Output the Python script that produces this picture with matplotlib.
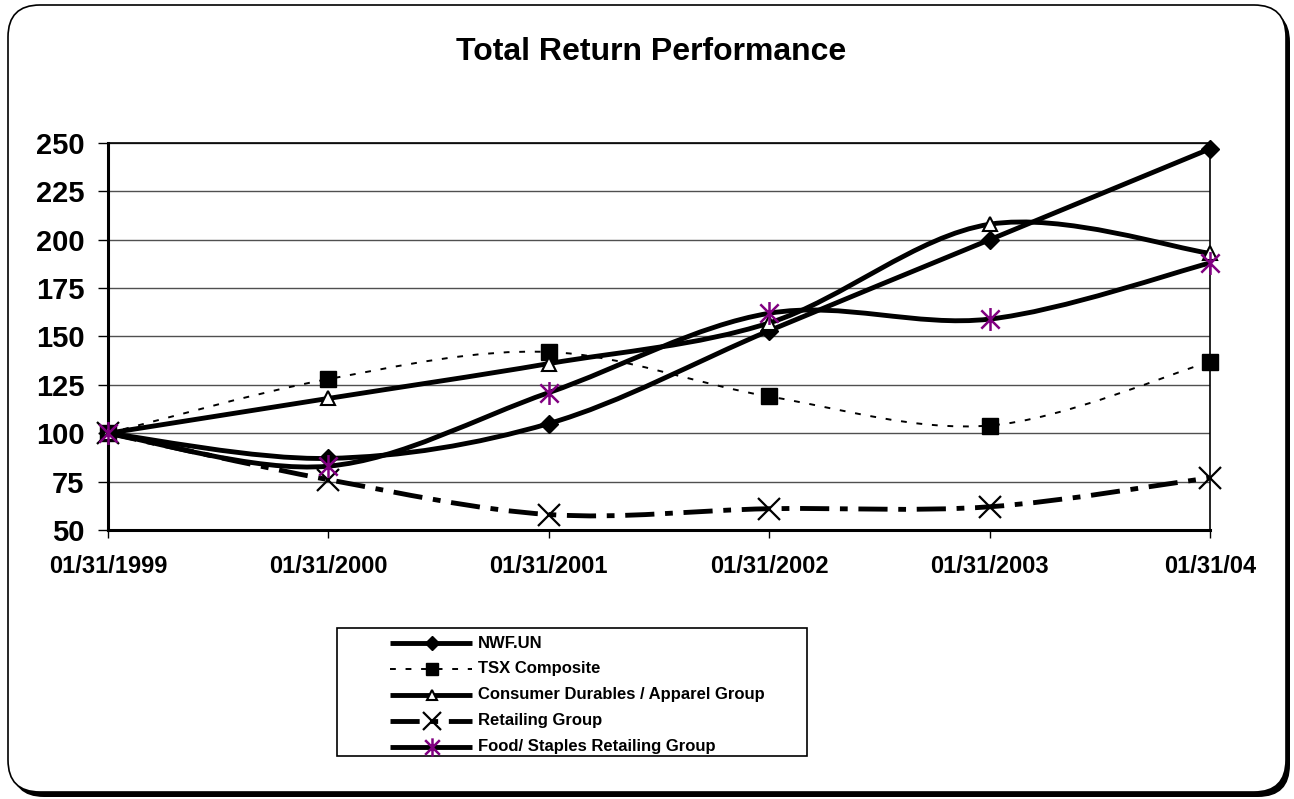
import numpy as np
import matplotlib
matplotlib.use('Agg')
import matplotlib.pyplot as plt
from matplotlib.path import Path
from matplotlib.patches import PathPatch, FancyBboxPatch, Rectangle
from matplotlib.lines import Line2D
from matplotlib.transforms import IdentityTransform

plt.rcParams['font.family'] = ['Liberation Sans', 'DejaVu Sans']
plt.rcParams['font.weight'] = 'bold'

# data
dates = ['01/31/1999', '01/31/2000', '01/31/2001', '01/31/2002', '01/31/2003', '01/31/04']
nwf = [100, 87, 105, 153, 200, 247]
tsx = [100, 128, 142, 119, 104, 137]
consumer = [100, 118, 136, 157, 208, 193]
retailing = [100, 76, 58, 61, 62, 77]
food = [100, 83, 121, 162, 159, 188]
series_names = ['NWF.UN', 'TSX Composite', 'Consumer Durables / Apparel Group',
                'Retailing Group', 'Food/ Staples Retailing Group']
y_ticks = [50, 75, 100, 125, 150, 175, 200, 225, 250]

W, H = 1294, 799
PURPLE = '#800080'

# excel-like asterisk marker: vertical bar plus an X
star = Path([(0, -1), (0, 1), (-0.8, -0.8), (0.8, 0.8), (-0.8, 0.8), (0.8, -0.8)],
            [Path.MOVETO, Path.LINETO, Path.MOVETO, Path.LINETO, Path.MOVETO, Path.LINETO])

styles = [
    dict(lw=3.5, ls='-', marker='D', ms=9.5, mfc='black', mec='black', mew=1),
    dict(lw=1.4, ls=(0, (3, 5)), marker='s', ms=11, mfc='black', mec='black', mew=1),
    dict(lw=3.5, ls='-', marker='^', ms=9.5, mfc='white', mec='black', mew=1.5),
    dict(lw=3.5, ls=(0, (6, 2.2, 1.6, 2.2)), marker='x', ms=16, mfc='black', mec='black', mew=1.6),
    dict(lw=3.5, ls='-', marker=star, ms=16.5, mfc=PURPLE, mec=PURPLE, mew=1.8),
]


def smooth_path(xs, ys):
    # bezier curve through the points, like excel "smoothed line"
    pts = np.column_stack([xs, ys]).astype(float)
    n = len(pts)
    verts = [pts[0]]
    codes = [Path.MOVETO]
    for i in range(n - 1):
        p0 = pts[i - 1] if i > 0 else pts[i]
        p1 = pts[i]
        p2 = pts[i + 1]
        p3 = pts[i + 2] if i + 2 < n else pts[i + 1]
        verts += [p1 + (p2 - p0) / 6, p2 - (p3 - p1) / 6, p2]
        codes += [Path.CURVE4] * 3
    return Path(verts, codes)


fig = plt.figure(figsize=(W / 100, H / 100), dpi=100)

# rounded frame with shadow, kept behind the axes
shadow = FancyBboxPatch((12, 2), 1278, 787, boxstyle='round,pad=0,rounding_size=32',
                        transform=IdentityTransform(), fc='black', ec='black', lw=0, zorder=-2)
frame = FancyBboxPatch((8, 7), 1278, 787, boxstyle='round,pad=0,rounding_size=32',
                       transform=IdentityTransform(), fc='white', ec='black', lw=1.2, zorder=-1)
fig.patches.extend([shadow, frame])

ax = fig.add_axes([108 / W, 1 - 530 / H, (1210 - 108) / W, (530 - 143) / H])
ax.set_facecolor('white')

xs = np.arange(len(dates))
all_series = [nwf, tsx, consumer, retailing, food]
for vals, st in zip(all_series, styles):
    patch = PathPatch(smooth_path(xs, vals), fill=False, edgecolor='black',
                      lw=st['lw'], ls=st['ls'], capstyle='butt', zorder=3)
    ax.add_patch(patch)
    ax.plot(xs, vals, ls='none', marker=st['marker'], ms=st['ms'], mfc=st['mfc'],
            mec=st['mec'], mew=st['mew'], zorder=3, clip_on=False)

ax.set_xlim(0, len(dates) - 1)
ax.set_ylim(50, 250)
ax.set_yticks(y_ticks)
ax.set_xticks(xs)
ax.set_xticklabels(dates, fontsize=17, fontweight='bold')
ax.set_yticklabels([str(v) for v in y_ticks], fontsize=21, fontweight='bold')
ax.yaxis.grid(True, color='#505050', lw=1)
ax.set_axisbelow(True)
ax.tick_params(axis='y', direction='out', length=7, width=1, pad=10)
ax.tick_params(axis='x', direction='out', length=6, width=1, pad=12)
ax.spines['left'].set_linewidth(2.2)
ax.spines['bottom'].set_linewidth(2.2)
ax.spines['top'].set_linewidth(1.2)
ax.spines['right'].set_linewidth(1.2)

fig.text(651 / W, 1 - 52 / H, 'Total Return Performance', ha='center', va='center',
         fontsize=23, fontweight='bold')

# legend drawn by hand to match the excel layout
def fx(px):
    return px / W


def fy(py):
    return 1 - py / H


fig.add_artist(Rectangle((fx(337), fy(756)), fx(807) - fx(337), fy(628) - fy(756),
                         transform=fig.transFigure, fc='white', ec='black', lw=1.2, zorder=5))
row_y = [643, 669, 695, 721, 747]
for name, st, py in zip(series_names, styles, row_y):
    fig.add_artist(Line2D([fx(390), fx(472)], [fy(py), fy(py)], transform=fig.transFigure,
                          color='black', lw=st['lw'], ls=st['ls'], solid_capstyle='butt',
                          dash_capstyle='butt', zorder=6))
    fig.add_artist(Line2D([fx(432)], [fy(py)], transform=fig.transFigure, ls='none',
                          marker=st['marker'], ms=st['ms'] * 0.8, mfc=st['mfc'], mec=st['mec'],
                          mew=st['mew'], zorder=7))
    fig.text(fx(478), fy(py), name, ha='left', va='center', fontsize=12,
             fontweight='bold', zorder=8)

fig.savefig('out.png', dpi=100, facecolor='white')
